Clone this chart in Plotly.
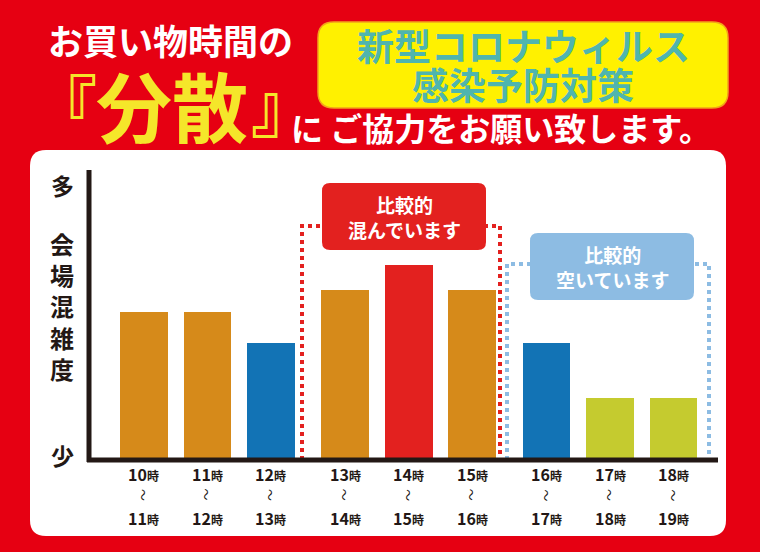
import plotly.graph_objects as go

W, H = 760, 552
FONT = "Noto Sans CJK JP"

# data
start_hours = [10, 11, 12, 13, 14, 15, 16, 17, 18]
end_hours = [11, 12, 13, 14, 15, 16, 17, 18, 19]
groups = [0, 0, 0, 1, 1, 1, 2, 2, 2]
crowd = [148, 148, 117, 170, 195, 170, 117, 62, 62]
colors = ["#D68A1A", "#D68A1A", "#1273B5", "#D68A1A", "#E3211F", "#D68A1A",
          "#1273B5", "#C5CB2F", "#C5CB2F"]

slots = [i + 0.17 * g for i, g in enumerate(groups)]


def px(x):
    return x / W


def py(y):
    return 1 - y / H


def rrect(x0, y0, x1, y1, r):
    rx, ry = r / W, r / H
    a, b, c, d = px(x0), py(y1), px(x1), py(y0)
    return (f"M{a+rx},{b} L{c-rx},{b} Q{c},{b} {c},{b+ry} L{c},{d-ry} Q{c},{d} {c-rx},{d} "
            f"L{a+rx},{d} Q{a},{d} {a},{d-ry} L{a},{b+ry} Q{a},{b} {a+rx},{b} Z")


fig = go.Figure()
fig.add_trace(go.Bar(x=slots, y=crowd, marker_color=colors, width=0.75, marker_line_width=0))

shapes = [
    dict(type="path", path=rrect(30, 150, 726, 536, 16), xref="paper", yref="paper",
         fillcolor="white", line_width=0, layer="below"),
    dict(type="path", path=rrect(318, 22, 728, 108, 16), xref="paper", yref="paper",
         fillcolor="#FFF100", line=dict(color="#F2A31B", width=1.5), layer="below"),
    # group frames
    dict(type="path", xref="paper", yref="paper",
         path=f"M{px(302)},{py(460)} L{px(302)},{py(226)} L{px(500)},{py(226)} L{px(500)},{py(460)}",
         line=dict(color="#E3211F", width=4, dash="dot")),
    dict(type="path", xref="paper", yref="paper",
         path=f"M{px(507)},{py(460)} L{px(507)},{py(264)} L{px(709)},{py(264)} L{px(709)},{py(460)}",
         line=dict(color="#8DBCE3", width=4, dash="dot")),
    dict(type="path", path=rrect(322, 183, 486, 250, 8), xref="paper", yref="paper",
         fillcolor="#E3211F", line_width=0),
    dict(type="path", path=rrect(530, 233, 694, 300, 8), xref="paper", yref="paper",
         fillcolor="#8DBCE3", line_width=0),
    # axes
    dict(type="line", xref="paper", yref="paper", x0=px(89), x1=px(89), y0=py(170), y1=py(462),
         line=dict(color="#231815", width=5)),
    dict(type="line", xref="paper", yref="paper", x0=px(87), x1=px(718), y0=py(460), y1=py(460),
         line=dict(color="#231815", width=5)),
]

ann = []


def text(x, y, t, size, color="white", **kw):
    ann.append(dict(x=px(x), y=py(y), xref="paper", yref="paper", text=t, showarrow=False,
                    xanchor="center", yanchor="middle",
                    font=dict(family=FONT, size=size, color=color, weight="bold"), **kw))


text(170, 40, "お買い物時間の", 35)
text(64, 102, "『", 66, "#F5E62A")
text(172, 104, "分散", 76, "#F5E62A")
text(284, 102, "』", 66, "#F5E62A")
text(501, 127, "に ご協力をお願い致します。", 32)
text(523, 45, "新型コロナウィルス", 37, "#4FB5AE")
text(523, 84, "感染予防対策", 37, "#4FB5AE")
text(404, 217, "比較的<br>混んでいます", 19)
text(612, 267, "比較的<br>空いています", 19)
text(62, 185, "多", 23, "#231815")
text(62, 455, "少", 23, "#231815")
text(62, 306, "会<br>場<br>混<br>雑<br>度", 24, "#231815")

for s, e, sl in zip(start_hours, end_hours, slots):
    ann.append(dict(x=sl, y=py(474), xref="x", yref="paper", showarrow=False,
                    xanchor="center", yanchor="middle",
                    text=f"{s}<span style='font-size:12px'>時</span>",
                    font=dict(family=FONT, size=16, color="#231815", weight="bold")))
    ann.append(dict(x=sl, y=py(495), xref="x", yref="paper", showarrow=False, text="〜",
                    xanchor="center", yanchor="middle",
                    textangle=90, font=dict(family=FONT, size=12, color="#231815")))
    ann.append(dict(x=sl, y=py(518), xref="x", yref="paper", showarrow=False,
                    xanchor="center", yanchor="middle",
                    text=f"{e}<span style='font-size:12px'>時</span>",
                    font=dict(family=FONT, size=16, color="#231815", weight="bold")))

fig.update_layout(
    width=W, height=H, margin=dict(l=0, r=0, t=0, b=0),
    paper_bgcolor="#E60012", plot_bgcolor="rgba(0,0,0,0)", showlegend=False,
    xaxis=dict(domain=[px(88), px(718)], range=[-0.88, 9.04], visible=False),
    yaxis=dict(domain=[py(460), py(170)], range=[0, 290], visible=False),
    shapes=shapes, annotations=ann, bargap=0,
)
fig.write_html("out.html", config={"displayModeBar": False},
               post_script="document.body.style.margin='0';")
